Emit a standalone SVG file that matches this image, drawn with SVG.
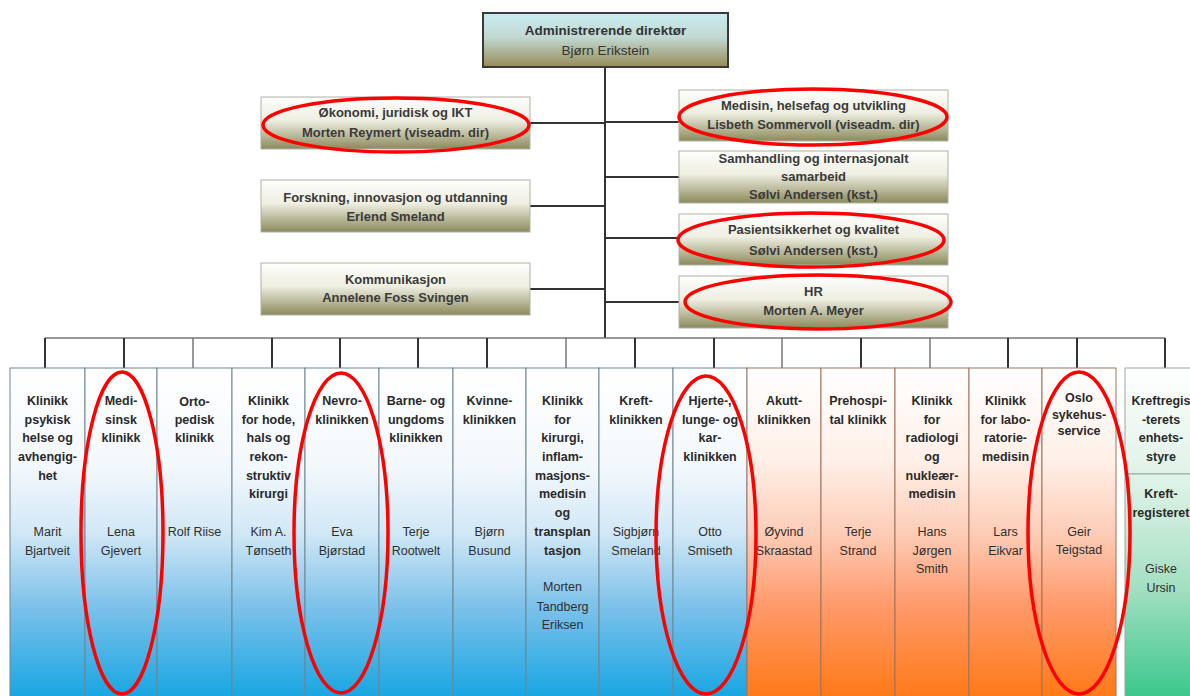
<svg xmlns="http://www.w3.org/2000/svg" width="1190" height="696" viewBox="0 0 1190 696">
<defs>
<linearGradient id="gTop" x1="0" y1="0" x2="0" y2="1">
<stop offset="0" stop-color="#c9ecf2"/><stop offset="0.45" stop-color="#c2d9d2"/><stop offset="1" stop-color="#968b58"/>
</linearGradient>
<linearGradient id="gStaff" x1="0" y1="0" x2="0" y2="1">
<stop offset="0" stop-color="#fefefc"/><stop offset="0.45" stop-color="#eeeee2"/><stop offset="1" stop-color="#8b8a5b"/>
</linearGradient>
<linearGradient id="gBlue" gradientUnits="userSpaceOnUse" x1="0" y1="368" x2="0" y2="696">
<stop offset="0" stop-color="#ffffff"/><stop offset="0.3" stop-color="#f3f8fc"/><stop offset="0.5" stop-color="#d2e8f6"/><stop offset="0.72" stop-color="#7fc2ea"/><stop offset="1" stop-color="#19a6e2"/>
</linearGradient>
<linearGradient id="gOrange" gradientUnits="userSpaceOnUse" x1="0" y1="368" x2="0" y2="696">
<stop offset="0" stop-color="#ffffff"/><stop offset="0.28" stop-color="#fff0e8"/><stop offset="0.5" stop-color="#fdcdb8"/><stop offset="0.72" stop-color="#ff9a6c"/><stop offset="1" stop-color="#ff7a18"/>
</linearGradient>
<linearGradient id="gGreenTop" x1="0" y1="0" x2="0" y2="1">
<stop offset="0" stop-color="#ffffff"/><stop offset="1" stop-color="#e0f2e8"/>
</linearGradient>
<linearGradient id="gGreen" gradientUnits="userSpaceOnUse" x1="0" y1="474" x2="0" y2="696">
<stop offset="0" stop-color="#e2f4ea"/><stop offset="0.5" stop-color="#a6e0c3"/><stop offset="1" stop-color="#3cc78d"/>
</linearGradient>
</defs>
<style>
text{font-family:"Liberation Sans",Arial,sans-serif;text-anchor:middle;}
.top{fill:url(#gTop);stroke:#3a3a3a;stroke-width:2;}
.staff{fill:url(#gStaff);stroke:#b0b0a8;stroke-width:1;}
.blue{fill:url(#gBlue);stroke:#6f8592;stroke-width:1;}
.orange{fill:url(#gOrange);stroke:#a0735a;stroke-width:1;}
.gtop{fill:url(#gGreenTop);stroke:#9aa8a0;stroke-width:1;}
.gbot{fill:url(#gGreen);stroke:#9aa8a0;stroke-width:1;}
.st{font-size:13px;font-weight:bold;fill:#3a3a3a;}
.tt{font-size:13.5px;font-weight:bold;fill:#333;}
.tn{font-size:13.5px;fill:#333;}
.ct{font-size:12.5px;font-weight:bold;fill:#2a2a2a;}
.cn{font-size:12.5px;fill:#2f2f2f;}
.line{stroke:#333;stroke-width:2;fill:none;}
.lt{stroke:#777;stroke-width:1.5;fill:none;}
.mark{fill:none;stroke:#ff0000;stroke-width:3.5;}
</style>
<rect width="1190" height="696" fill="#ffffff"/>

<g id="connectors">
<line class="line" x1="605" y1="67" x2="605" y2="338"/>
<line class="line" x1="530" y1="123" x2="605" y2="123"/>
<line class="line" x1="530" y1="206" x2="605" y2="206"/>
<line class="line" x1="530" y1="289" x2="605" y2="289"/>
<line class="line" x1="605" y1="122" x2="679" y2="122"/>
<line class="line" x1="605" y1="177" x2="679" y2="177"/>
<line class="line" x1="605" y1="238" x2="679" y2="238"/>
<line class="line" x1="605" y1="302" x2="679" y2="302"/>
<line class="lt" x1="45" y1="338" x2="1165" y2="338"/>
<line class="line" x1="45" y1="338" x2="45" y2="368"/>
<line class="line" x1="124" y1="338" x2="124" y2="368"/>
<line class="lt" x1="193" y1="338" x2="193" y2="368"/>
<line class="line" x1="272" y1="338" x2="272" y2="368"/>
<line class="line" x1="340" y1="338" x2="340" y2="368"/>
<line class="line" x1="418" y1="338" x2="418" y2="368"/>
<line class="line" x1="487" y1="338" x2="487" y2="368"/>
<line class="lt" x1="566" y1="338" x2="566" y2="368"/>
<line class="line" x1="635" y1="338" x2="635" y2="368"/>
<line class="line" x1="714" y1="338" x2="714" y2="368"/>
<line class="lt" x1="782" y1="338" x2="782" y2="368"/>
<line class="line" x1="861" y1="338" x2="861" y2="368"/>
<line class="lt" x1="930" y1="338" x2="930" y2="368"/>
<line class="line" x1="1008" y1="338" x2="1008" y2="368"/>
<line class="line" x1="1077" y1="338" x2="1077" y2="368"/>
<line class="line" x1="1165" y1="338" x2="1165" y2="368"/>
</g>

<g id="ceo">
<rect class="top" x="483" y="13" width="245" height="54"/>
<text class="tt" x="605.5" y="35">Administrerende direktør</text>
<text class="tn" x="605.5" y="55">Bjørn Erikstein</text>
</g>

<g id="okonomi">
<rect class="staff" x="261" y="97" width="269" height="52"/>
<text class="st" x="395.5" y="117">Økonomi, juridisk og IKT</text>
<text class="st" x="395.5" y="137">Morten Reymert (viseadm. dir)</text>
</g>
<g id="forskning">
<rect class="staff" x="261" y="180" width="269" height="52"/>
<text class="st" x="395.5" y="202">Forskning, innovasjon og utdanning</text>
<text class="st" x="395.5" y="221">Erlend Smeland</text>
</g>
<g id="kommunikasjon">
<rect class="staff" x="261" y="263" width="269" height="52"/>
<text class="st" x="395.5" y="284">Kommunikasjon</text>
<text class="st" x="395.5" y="302">Annelene Foss Svingen</text>
</g>
<g id="medisin">
<rect class="staff" x="679" y="90" width="269" height="51"/>
<text class="st" x="813.5" y="110">Medisin, helsefag og utvikling</text>
<text class="st" x="813.5" y="129">Lisbeth Sommervoll (viseadm. dir)</text>
</g>
<g id="samhandling">
<rect class="staff" x="679" y="151" width="269" height="52"/>
<text class="st" x="813.5" y="163">Samhandling og internasjonalt</text>
<text class="st" x="813.5" y="181">samarbeid</text>
<text class="st" x="813.5" y="199">Sølvi Andersen (kst.)</text>
</g>
<g id="pasientsikkerhet">
<rect class="staff" x="679" y="214" width="269" height="51"/>
<text class="st" x="813.5" y="234">Pasientsikkerhet og kvalitet</text>
<text class="st" x="813.5" y="255">Sølvi Andersen (kst.)</text>
</g>
<g id="hr">
<rect class="staff" x="679" y="276" width="269" height="52"/>
<text class="st" x="813.5" y="296">HR</text>
<text class="st" x="813.5" y="315">Morten A. Meyer</text>
</g>

<g id="col1">
<rect class="blue" x="10" y="368" width="75" height="330"/>
<text class="ct"><tspan x="47.5" y="405">Klinikk</tspan><tspan x="47.5" y="424">psykisk</tspan><tspan x="47.5" y="442">helse og</tspan><tspan x="47.5" y="461">avhengig-</tspan><tspan x="47.5" y="480">het</tspan></text>
<text class="cn"><tspan x="47.5" y="536">Marit</tspan><tspan x="47.5" y="555">Bjartveit</tspan></text>
</g>
<g id="col2">
<rect class="blue" x="85" y="368" width="72" height="330"/>
<text class="ct"><tspan x="121" y="405">Medi-</tspan><tspan x="121" y="424">sinsk</tspan><tspan x="121" y="442">klinikk</tspan></text>
<text class="cn"><tspan x="121" y="536">Lena</tspan><tspan x="121" y="555">Gjevert</tspan></text>
</g>
<g id="col3">
<rect class="blue" x="157" y="368" width="75" height="330"/>
<text class="ct"><tspan x="194.5" y="406">Orto-</tspan><tspan x="194.5" y="424">pedisk</tspan><tspan x="194.5" y="442">klinikk</tspan></text>
<text class="cn"><tspan x="194.5" y="536">Rolf Riise</tspan></text>
</g>
<g id="col4">
<rect class="blue" x="232" y="368" width="73" height="330"/>
<text class="ct"><tspan x="268.5" y="405">Klinikk</tspan><tspan x="268.5" y="424">for hode,</tspan><tspan x="268.5" y="442">hals og</tspan><tspan x="268.5" y="461">rekon-</tspan><tspan x="268.5" y="480">struktiv</tspan><tspan x="268.5" y="498">kirurgi</tspan></text>
<text class="cn"><tspan x="268.5" y="536">Kim A.</tspan><tspan x="268.5" y="555">Tønseth</tspan></text>
</g>
<g id="col5">
<rect class="blue" x="305" y="368" width="74" height="330"/>
<text class="ct"><tspan x="342" y="405">Nevro-</tspan><tspan x="342" y="424">klinikken</tspan></text>
<text class="cn"><tspan x="342" y="536">Eva</tspan><tspan x="342" y="555">Bjørstad</tspan></text>
</g>
<g id="col6">
<rect class="blue" x="379" y="368" width="74" height="330"/>
<text class="ct"><tspan x="416" y="405">Barne- og</tspan><tspan x="416" y="424">ungdoms</tspan><tspan x="416" y="442">klinikken</tspan></text>
<text class="cn"><tspan x="416" y="536">Terje</tspan><tspan x="416" y="555">Rootwelt</tspan></text>
</g>
<g id="col7">
<rect class="blue" x="453" y="368" width="73" height="330"/>
<text class="ct"><tspan x="489.5" y="405">Kvinne-</tspan><tspan x="489.5" y="424">klinikken</tspan></text>
<text class="cn"><tspan x="489.5" y="536">Bjørn</tspan><tspan x="489.5" y="555">Busund</tspan></text>
</g>
<g id="col8">
<rect class="blue" x="526" y="368" width="73" height="330"/>
<text class="ct"><tspan x="562.5" y="405">Klinikk</tspan><tspan x="562.5" y="424">for</tspan><tspan x="562.5" y="442">kirurgi,</tspan><tspan x="562.5" y="461">inflam-</tspan><tspan x="562.5" y="480">masjons-</tspan><tspan x="562.5" y="498">medisin</tspan><tspan x="562.5" y="517">og</tspan><tspan x="562.5" y="536">transplan</tspan><tspan x="562.5" y="555">tasjon</tspan></text>
<text class="cn"><tspan x="562.5" y="591">Morten</tspan><tspan x="562.5" y="611">Tandberg</tspan><tspan x="562.5" y="629">Eriksen</tspan></text>
</g>
<g id="col9">
<rect class="blue" x="599" y="368" width="74" height="330"/>
<text class="ct"><tspan x="636" y="405">Kreft-</tspan><tspan x="636" y="424">klinikken</tspan></text>
<text class="cn"><tspan x="636" y="536">Sigbjørn</tspan><tspan x="636" y="555">Smeland</tspan></text>
</g>
<g id="col10">
<rect class="blue" x="673" y="368" width="74" height="330"/>
<text class="ct"><tspan x="710" y="405">Hjerte-,</tspan><tspan x="710" y="424">lunge- og</tspan><tspan x="710" y="442">kar-</tspan><tspan x="710" y="461">klinikken</tspan></text>
<text class="cn"><tspan x="710" y="536">Otto</tspan><tspan x="710" y="555">Smiseth</tspan></text>
</g>
<g id="col11">
<rect class="orange" x="747" y="368" width="74" height="330"/>
<text class="ct"><tspan x="784" y="405">Akutt-</tspan><tspan x="784" y="424">klinikken</tspan></text>
<text class="cn"><tspan x="784" y="536">Øyvind</tspan><tspan x="784" y="555">Skraastad</tspan></text>
</g>
<g id="col12">
<rect class="orange" x="821" y="368" width="74" height="330"/>
<text class="ct"><tspan x="858" y="405">Prehospi-</tspan><tspan x="858" y="424">tal klinikk</tspan></text>
<text class="cn"><tspan x="858" y="536">Terje</tspan><tspan x="858" y="555">Strand</tspan></text>
</g>
<g id="col13">
<rect class="orange" x="895" y="368" width="74" height="330"/>
<text class="ct"><tspan x="932" y="405">Klinikk</tspan><tspan x="932" y="424">for</tspan><tspan x="932" y="442">radiologi</tspan><tspan x="932" y="461">og</tspan><tspan x="932" y="480">nukleær-</tspan><tspan x="932" y="498">medisin</tspan></text>
<text class="cn"><tspan x="932" y="536">Hans</tspan><tspan x="932" y="555">Jørgen</tspan><tspan x="932" y="573">Smith</tspan></text>
</g>
<g id="col14">
<rect class="orange" x="969" y="368" width="73" height="330"/>
<text class="ct"><tspan x="1005.5" y="405">Klinikk</tspan><tspan x="1005.5" y="424">for labo-</tspan><tspan x="1005.5" y="442">ratorie-</tspan><tspan x="1005.5" y="461">medisin</tspan></text>
<text class="cn"><tspan x="1005.5" y="536">Lars</tspan><tspan x="1005.5" y="555">Eikvar</tspan></text>
</g>
<g id="col15">
<rect class="orange" x="1042" y="368" width="74" height="330"/>
<text class="ct"><tspan x="1079" y="402">Oslo</tspan><tspan x="1079" y="419">sykehus-</tspan><tspan x="1079" y="435">service</tspan></text>
<text class="cn"><tspan x="1079" y="536">Geir</tspan><tspan x="1079" y="554">Teigstad</tspan></text>
</g>
<g id="col16">
<rect class="gtop" x="1125" y="368" width="75" height="106"/>
<rect class="gbot" x="1125" y="474" width="75" height="224"/>
<text class="ct"><tspan x="1161" y="405">Kreftregis</tspan><tspan x="1161" y="424">-terets</tspan><tspan x="1161" y="442">enhets-</tspan><tspan x="1161" y="461">styre</tspan></text>
<text class="ct"><tspan x="1161" y="498">Kreft-</tspan><tspan x="1161" y="517">registeret</tspan></text>
<text class="cn"><tspan x="1161" y="573">Giske</tspan><tspan x="1161" y="592">Ursin</tspan></text>
</g>

<g id="highlights">
<ellipse class="mark" cx="396" cy="125" rx="133" ry="27"/>
<ellipse class="mark" cx="813" cy="117" rx="134" ry="28"/>
<ellipse class="mark" cx="811" cy="240" rx="133" ry="27"/>
<ellipse class="mark" cx="818" cy="302" rx="133" ry="27"/>
<ellipse class="mark" cx="122" cy="533" rx="41" ry="161"/>
<ellipse class="mark" cx="341" cy="533" rx="47" ry="160"/>
<ellipse class="mark" cx="706" cy="535" rx="50" ry="159"/>
<ellipse class="mark" cx="1079" cy="533" rx="51" ry="161"/>
</g>
</svg>
